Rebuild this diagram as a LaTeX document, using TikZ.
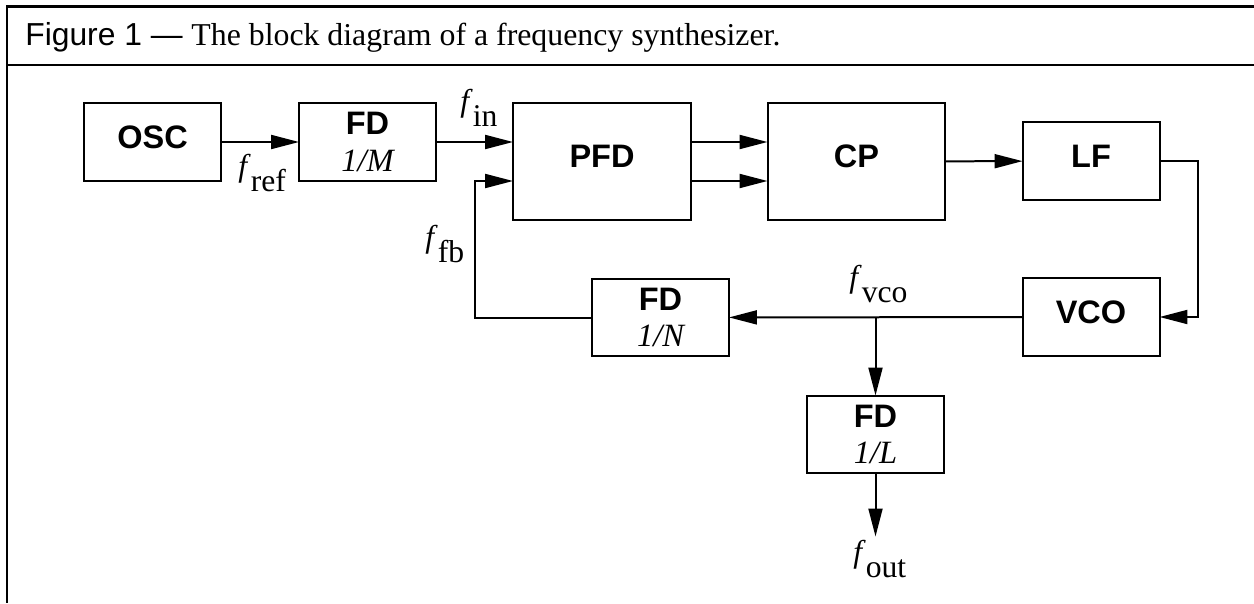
\documentclass[tikz,border=0pt]{standalone}
\usepackage{fontspec}
\setmainfont{Liberation Serif}
\setsansfont{Liberation Sans}
\usetikzlibrary{arrows.meta,calc}
\tikzset{
  box/.style={
    draw,
    line width=0.04cm,
    inner sep=0,
    outer sep=0,
    minimum width=2.74cm,
    minimum height=1.56cm,
    align=center,
    font=\sffamily\bfseries\fontsize{18.5}{21}\selectfont
  },
  block/.style={
    box,
    text depth=0.2cm
  },
  wideblock/.style={
    block,
    minimum width=3.56cm,
    minimum height=2.34cm
  },
  signal/.style={
    line width=0.04cm,
    -{Triangle[length=0.56cm,width=0.28cm]}
  },
  freq/.style={
    inner sep=0,
    anchor=base west,
    font=\fontsize{18}{20}\selectfont
  }
}
\newcommand{\freqlabel}[1]{\textit{f}\raisebox{-9pt}{#1}}

\begin{document}
\begin{tikzpicture}[x=0.02cm,y=0.02cm]
            \useasboundingbox (0,0) rectangle (1254,603);
            \draw[line width=0.06cm] (1254,596)--(7,596)--(7,0);
            \draw[line width=0.04cm] (7,538)--(1254,538);
            \node[anchor=base west,inner sep=0,font=\fontsize{18.1}{21}\selectfont] (title) at (25,558)
              {\sffamily Figure 1 --- \rmfamily The block diagram of a frequency synthesizer.};
            \node[block] (osc) at (152.5,461) {OSC};
            \node[box] (fdm) at (367.5,461) {FD\\{\normalfont\itshape 1/M}};
            \node[wideblock] (pfd) at (602,441.5) {PFD};
            \node[wideblock] (cp) at (856.5,441.5) {CP};
            \node[block] (lf) at (1091,442) {LF};
            \node[block] (vco) at (1091,286) {VCO};
            \node[box] (fdn) at (660.5,285.5) {FD\\{\normalfont\itshape 1/N}};
            \node[box] (fdl) at (875.5,168.5) {FD\\{\normalfont\itshape 1/L}};
            \draw[signal] (osc)--(fdm);
            \draw[signal] (fdm.east)--(fdm.east -| pfd.west);
            \draw[signal] ($(pfd.east)+(0,19.5)$)--($(cp.west)+(0,19.5)$);
            \draw[signal] ($(pfd.east)+(0,-19.5)$)--($(cp.west)+(0,-19.5)$);
            \draw[signal] (cp)--(lf);
            \draw[signal] (lf.east)--++(38,0) |- (vco.east);
            \draw[signal] (vco)--(fdn);
            \draw[signal] (fdn.west)--++(-117,0) |- ($(pfd.west)+(0,-19.5)$);
            \draw[signal] (fdl.north |- fdn.east)--(fdl.north);
            \draw[signal] (fdl.south)--++(0,-63) coordinate (out);
            \node[freq] (fref) at (238,427) {\freqlabel{ref}};
            \node[freq] (fin) at (460,492) {\freqlabel{in}};
            \node[freq] (ffb) at (425,356) {\freqlabel{fb}};
            \node[freq] (fvco) at (849,316) {\freqlabel{vco}};
            \node[freq] (fout) at (853,41) {\freqlabel{out}};
\end{tikzpicture}
\end{document}
